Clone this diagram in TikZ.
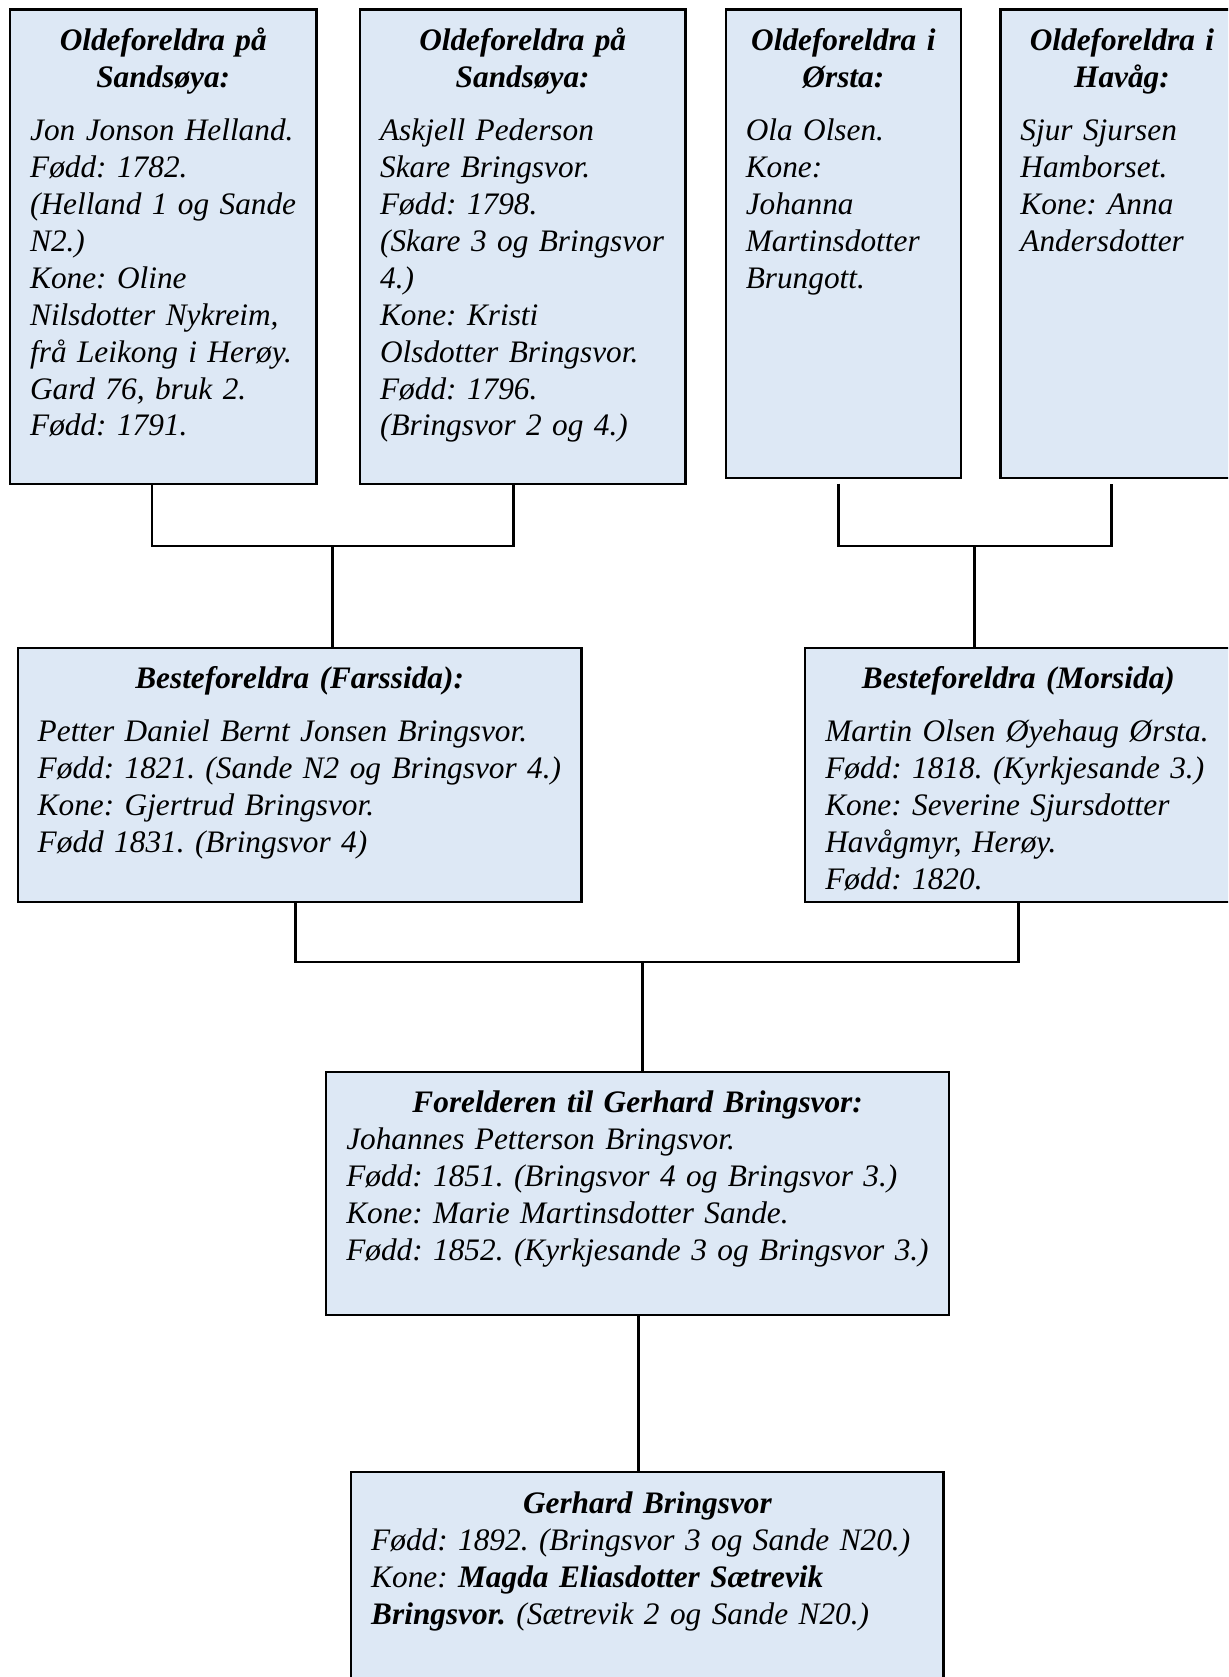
\documentclass[tikz,border=0pt]{standalone}
\usepackage{fontspec}
\setmainfont{Liberation Serif}
\usepackage{xcolor}
\usepackage{tikz}
\usetikzlibrary{positioning}
\definecolor{boxblue}{RGB}{221,232,245}
\frenchspacing
\hyphenpenalty=10000
\exhyphenpenalty=10000
\tikzset{
    familyBox/.style={
        rectangle,
        draw=black,
        line width=0.7pt,
        fill=boxblue,
        anchor=north west,
        align=left,
        inner xsep=0.2cm,
        inner ysep=0pt,
        text height=0.41cm,
        font=\fontsize{8.9pt}{10.5pt}\selectfont\itshape
    },
    oldeBox/.style={familyBox, text depth=4.33cm},
    oldeBoxShort/.style={familyBox, text depth=4.27cm},
    besteBox/.style={familyBox, text depth=2.13cm},
    link/.style={line width=0.85pt}
}

\begin{document}
\begin{tikzpicture}[x=0.01cm, y=-0.01cm]
    \useasboundingbox (0,0) rectangle (1228,1677);
    \clip (0,0) rectangle (1228,1677);

    % Oldeforeldra
    \node[oldeBox, text width=2.66cm] (SandA) at (8.9,8.5)
        {{\centering\bfseries Oldeforeldra på\\Sandsøya:\par}\vspace{0.16cm}
         Jon Jonson Helland.\\Fødd: 1782.\\(Helland 1 og Sande\\N2.)\\Kone: Oline\\Nilsdotter Nykreim,\\frå Leikong i Herøy.\\Gard 76, bruk 2.\\Fødd: 1791.};
    \node[oldeBox, text width=2.85cm, right=0.413cm of SandA.north east, anchor=north west] (SandB)
        {{\centering\bfseries Oldeforeldra på\\Sandsøya:\par}\vspace{0.16cm}
         Askjell Pederson\\Skare Bringsvor.\\Fødd: 1798.\\(Skare 3 og Bringsvor\\4.)\\Kone: Kristi\\Olsdotter Bringsvor.\\Fødd: 1796.\\(Bringsvor 2 og 4.)};
    \node[oldeBoxShort, text width=1.95cm, right=0.38cm of SandB.north east, anchor=north west] (Orsta)
        {{\centering\bfseries Oldeforeldra i\\Ørsta:\par}\vspace{0.16cm}
         Ola Olsen.\\Kone:\\Johanna\\Martinsdotter\\Brungott.};
    \node[oldeBoxShort, text width=2.03cm, right=0.37cm of Orsta.north east, anchor=north west] (Havag)
        {{\centering\bfseries Oldeforeldra i\\Havåg:\par}\vspace{0.16cm}
         Sjur Sjursen\\Hamborset.\\Kone: Anna\\Andersdotter};

    % Besteforeldra
    \node[besteBox, text width=5.235cm] (Fars) at (16.5,646.7)
        {{\centering\bfseries Besteforeldra (Farssida):\par}\vspace{0.16cm}
         Petter Daniel Bernt Jonsen Bringsvor.\\Fødd: 1821. (Sande N2 og Bringsvor 4.)\\Kone: Gjertrud Bringsvor.\\Fødd 1831. (Bringsvor 4)};
    \node[besteBox, text width=3.86cm] (Mors) at (804,646.7)
        {{\centering\bfseries Besteforeldra (Morsida)\par}\vspace{0.16cm}
         Martin Olsen Øyehaug Ørsta.\\Fødd: 1818. (Kyrkjesande 3.)\\Kone: Severine Sjursdotter\\Havågmyr, Herøy.\\Fødd: 1820.};

    % Foreldra og Gerhard
    \node[familyBox, text width=5.825cm, text depth=2.02cm] (Foreldra) at (325,1070.7)
        {{\centering\bfseries Forelderen til Gerhard Bringsvor:\par}
         Johannes Petterson Bringsvor.\\Fødd: 1851. (Bringsvor 4 og Bringsvor 3.)\\Kone: Marie Martinsdotter Sande.\\Fødd: 1852. (Kyrkjesande 3 og Bringsvor 3.)};
    \node[familyBox, text width=5.52cm, text depth=1.9cm] (Gerhard) at (350,1471)
        {{\centering\bfseries Gerhard Bringsvor\par}
         Fødd: 1892. (Bringsvor 3 og Sande N20.)\\Kone: \textbf{Magda Eliasdotter Sætrevik}\\\textbf{Bringsvor.} (Sætrevik 2 og Sande N20.)};

    \coordinate (sA) at (152,0);
    \coordinate (sB) at (513,0);
    \coordinate (jAB) at (332.6,546);
    \coordinate (sC) at (838,0);
    \coordinate (sD) at (1111,0);
    \coordinate (jCD) at (974.5,546);
    \coordinate (sE) at (295,0);
    \coordinate (sF) at (1018,0);
    \coordinate (jEF) at (642,962);
    \coordinate (sG) at (638,0);

    \draw[link] (SandA.south -| sA) |- (jAB) -| (SandB.south -| sB);
    \draw[link] (jAB) -- (Fars.north -| jAB);
    \draw[link, shorten <=0.045cm, shorten >=0.045cm] (Orsta.south -| sC) |- (jCD) -| (Havag.south -| sD);
    \draw[link] (jCD) -- (Mors.north -| jCD);
    \draw[link] (Fars.south -| sE) |- (jEF) -| (Mors.south -| sF);
    \draw[link] (jEF) -- (Foreldra.north -| jEF);
    \draw[link] (Foreldra.south -| sG) -- (Gerhard.north -| sG);
\end{tikzpicture}
\end{document}
